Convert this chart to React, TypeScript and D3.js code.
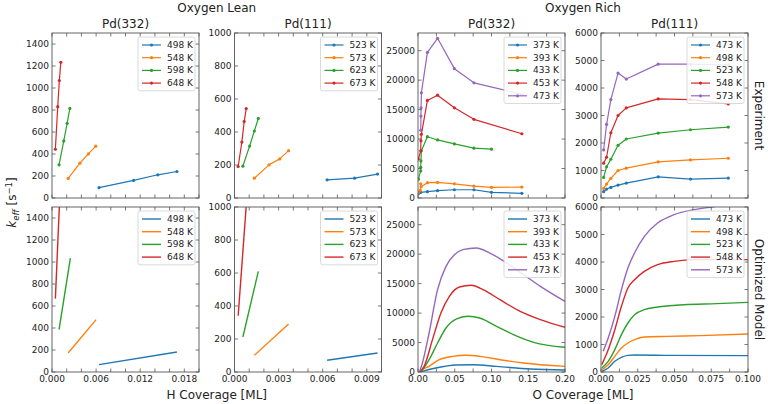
import * as d3 from "d3";

type Pt = [number, number];

const WIDTH = 768;
const HEIGHT = 404;

const COLORS = ["#1f77b4", "#ff7f0e", "#2ca02c", "#d62728", "#9467bd"];

// layout of the 2x4 grid of axes
const LEFTS = [52, 234.5, 418, 601];
const PANEL_W = 147;
const ROW_TOPS = [33, 207];
const PANEL_H = 165;

const GROUP_TITLES = ["Oxygen Lean", "Oxygen Rich"];
const ROW_TITLES = ["Experiment", "Optimized Model"];

const LEAN_332_TEMPS = ["498 K", "548 K", "598 K", "648 K"];
const LEAN_111_TEMPS = ["523 K", "573 K", "623 K", "673 K"];
const RICH_332_TEMPS = ["373 K", "393 K", "433 K", "453 K", "473 K"];
const RICH_111_TEMPS = ["473 K", "498 K", "523 K", "548 K", "573 K"];

// experiment (top row), [coverage, k_eff]
const LEAN_332_EXP: Pt[][] = [
  [[0.0064, 94], [0.0111, 160], [0.0144, 211], [0.017, 241]],
  [[0.0022, 178], [0.0038, 317], [0.00495, 401], [0.00595, 471]],
  [[0.00096, 302], [0.0016, 519], [0.00206, 679], [0.00243, 814]],
  [[0.00046, 443], [0.00078, 830], [0.001, 1068], [0.0012, 1234]],
];

const LEAN_111_EXP: Pt[][] = [
  [[0.0063, 110], [0.00817, 120], [0.00973, 145]],
  [[0.00135, 120], [0.00235, 201], [0.00308, 237], [0.00368, 287]],
  [[0.00057, 193], [0.00103, 315], [0.00135, 406], [0.00162, 482]],
  [[0.00025, 191], [0.0005, 339], [0.00066, 464], [0.0008, 542]],
];

const RICH_332_EXP: Pt[][] = [
  [[0.001, 800], [0.0037, 960], [0.0128, 1070], [0.0266, 1240], [0.0495, 1400], [0.0761, 1400], [0.1, 960], [0.1413, 790]],
  [[0.001, 1000], [0.003, 1300], [0.0037, 2400], [0.0042, 1900], [0.0128, 2600], [0.0266, 2650], [0.0495, 2400], [0.0761, 2000], [0.1, 1800], [0.1413, 1850]],
  [[0.0005, 3200], [0.0037, 4600], [0.0037, 5200], [0.004, 6300], [0.0046, 8000], [0.0128, 10400], [0.0266, 9850], [0.0495, 9180], [0.0761, 8450], [0.1, 8280]],
  [[0.0005, 6600], [0.0037, 8000], [0.004, 9700], [0.0046, 10800], [0.0128, 16550], [0.0266, 17450], [0.0495, 15300], [0.0761, 13350], [0.1413, 10900]],
  [[0.0037, 11500], [0.004, 13900], [0.0042, 15300], [0.0046, 17850], [0.0128, 24700], [0.0266, 27100], [0.0495, 21950], [0.0761, 19550], [0.1413, 17600]],
];

const RICH_111_EXP: Pt[][] = [
  [[0.0018, 229], [0.0038, 325], [0.0067, 386], [0.0116, 470], [0.0172, 542], [0.0389, 771], [0.0609, 687], [0.0866, 723]],
  [[0.0018, 349], [0.0038, 506], [0.0067, 711], [0.0116, 1000], [0.0172, 1084], [0.0389, 1313], [0.0609, 1386], [0.0866, 1446]],
  [[0.0018, 747], [0.0038, 1133], [0.0067, 1410], [0.0116, 1916], [0.0172, 2145], [0.0389, 2361], [0.0609, 2482], [0.0866, 2578]],
  [[0.0018, 1265], [0.0038, 1482], [0.0067, 2373], [0.0116, 3000], [0.0172, 3277], [0.0389, 3602], [0.0609, 3578], [0.0866, 3422]],
  [[0.0018, 1747], [0.0038, 2675], [0.0067, 3578], [0.0116, 4542], [0.0172, 4325], [0.0389, 4867], [0.0609, 4867], [0.0866, 4843]],
];

// optimized model (bottom row)
const LEAN_332_MODEL: Pt[][] = [
  [[0.0064, 67], [0.017, 182]],
  [[0.0022, 173], [0.006, 476]],
  [[0.00096, 385], [0.0025, 1036]],
  [[0.00046, 667], [0.0012, 1810]],
];

const LEAN_111_MODEL: Pt[][] = [
  [[0.0063, 71], [0.00973, 115]],
  [[0.00135, 101], [0.00368, 291]],
  [[0.00057, 212], [0.00162, 610]],
  [[0.00025, 341], [0.0008, 1010]],
];

const RICH_332_MODEL: Pt[][] = [
  [[0.003, 0], [0.006, 113], [0.0243, 679], [0.0518, 1190], [0.0748, 1240], [0.1069, 960], [0.1528, 510], [0.2, 340]],
  [[0.003, 0], [0.0037, 113], [0.0151, 960], [0.0289, 2090], [0.0472, 2660], [0.0656, 2830], [0.0839, 2660], [0.1115, 2090], [0.1436, 1530], [0.2, 960]],
  [[0.002, 0], [0.0037, 113], [0.0151, 2090], [0.0266, 4920], [0.0381, 7470], [0.0518, 8990], [0.0679, 9450], [0.0839, 9160], [0.1069, 7750], [0.1298, 6340], [0.1573, 5030], [0.2, 4190]],
  [[0.002, 0], [0.0083, 960], [0.0197, 5490], [0.0312, 10010], [0.0427, 12840], [0.0564, 14420], [0.0725, 14710], [0.0885, 13970], [0.1115, 12270], [0.139, 10290], [0.1665, 8880], [0.2, 7580]],
  [[0.002, 0], [0.006, 1530], [0.0151, 6620], [0.0266, 13970], [0.0381, 17930], [0.0495, 19910], [0.061, 20760], [0.0794, 21040], [0.0977, 20190], [0.1206, 18500], [0.1436, 16520], [0.1665, 14540], [0.2, 11990]],
];

const RICH_111_MODEL: Pt[][] = [
  [[0.0005, 24], [0.0049, 145], [0.0094, 388], [0.0139, 533], [0.0183, 606], [0.0228, 618], [0.0452, 606], [0.1, 594]],
  [[0.0005, 85], [0.0049, 267], [0.0094, 570], [0.0139, 873], [0.0183, 1055], [0.0228, 1176], [0.0295, 1273], [0.0452, 1297], [0.0676, 1321], [0.1, 1382]],
  [[0.0005, 145], [0.0049, 388], [0.0094, 812], [0.0139, 1358], [0.0183, 1782], [0.0228, 2085], [0.0295, 2267], [0.0385, 2364], [0.0564, 2448], [0.0787, 2485], [0.1, 2533]],
  [[0.0005, 267], [0.0049, 812], [0.0094, 1539], [0.0139, 2388], [0.0183, 3055], [0.0228, 3358], [0.0295, 3661], [0.0385, 3903], [0.0497, 4024], [0.0631, 4085], [0.1, 4085]],
  [[0.0015, 752], [0.0049, 1236], [0.0094, 2024], [0.0139, 2994], [0.0183, 3782], [0.0228, 4327], [0.0295, 4933], [0.0385, 5418], [0.0497, 5721], [0.0631, 5903], [0.0765, 6010], [0.1, 6250]],
];

type Column = {
  title: string;
  xMax: number;
  xMinor: number;
  xMajor: number;
  xFmt: string;
  yMax: number;
  yStep: number;
  temps: string[];
  exp: Pt[][];
  model: Pt[][];
};

const COLUMNS: Column[] = [
  { title: "Pd(332)", xMax: 0.02, xMinor: 0.002, xMajor: 0.006, xFmt: ".3f", yMax: 1500, yStep: 200, temps: LEAN_332_TEMPS, exp: LEAN_332_EXP, model: LEAN_332_MODEL },
  { title: "Pd(111)", xMax: 0.01, xMinor: 0.001, xMajor: 0.003, xFmt: ".3f", yMax: 1000, yStep: 200, temps: LEAN_111_TEMPS, exp: LEAN_111_EXP, model: LEAN_111_MODEL },
  { title: "Pd(332)", xMax: 0.2, xMinor: 0.025, xMajor: 0.05, xFmt: ".2f", yMax: 28000, yStep: 5000, temps: RICH_332_TEMPS, exp: RICH_332_EXP, model: RICH_332_MODEL },
  { title: "Pd(111)", xMax: 0.1, xMinor: 0.0125, xMajor: 0.025, xFmt: ".3f", yMax: 6000, yStep: 1000, temps: RICH_111_TEMPS, exp: RICH_111_EXP, model: RICH_111_MODEL },
];

const FONT = "DejaVu Sans, sans-serif";
const TICK = 3.5;
const SPINE = "#555";
const TEXT = "#222";

type PanelProps = {
  col: Column;
  colIndex: number;
  row: number;
  id: string;
};

const Panel = ({ col, colIndex, row, id }: PanelProps) => {
  const xScale = d3.scaleLinear().domain([0, col.xMax]).range([0, PANEL_W]);
  const yScale = d3.scaleLinear().domain([0, col.yMax]).range([PANEL_H, 0]);

  const nMinor = Math.round(col.xMax / col.xMinor);
  const ratio = Math.round(col.xMajor / col.xMinor);
  const xTicks = d3.range(0, nMinor + 1).map((i) => ({ v: i * col.xMinor, label: i % ratio === 0 }));
  const yTicks = d3.range(0, Math.floor(col.yMax / col.yStep) + 1).map((i) => i * col.yStep);
  const fmt = d3.format(col.xFmt);

  const series = row === 0 ? col.exp : col.model;
  const isExp = row === 0;

  const line = d3
    .line<Pt>()
    .x((d) => xScale(d[0]))
    .y((d) => yScale(d[1]))
    .curve(isExp ? d3.curveLinear : d3.curveMonotoneX);

  const legendW = 57;
  const rowH = 12.7;
  const legendH = col.temps.length * rowH + 3;
  const lx = PANEL_W - 4 - legendW;
  const ly = 4;

  return (
    <g transform={`translate(${LEFTS[colIndex]},${ROW_TOPS[row]})`}>
      <defs>
        <clipPath id={id}>
          <rect x={0} y={0} width={PANEL_W} height={PANEL_H} />
        </clipPath>
      </defs>
      <rect x={0} y={0} width={PANEL_W} height={PANEL_H} fill="white" />
      <g clipPath={`url(#${id})`}>
        {series.map((pts, i) => (
          <g key={i}>
            <path d={line(pts) || ""} fill="none" stroke={COLORS[i]} strokeWidth={isExp ? 1.2 : 1.4} strokeLinejoin="round" />
            {isExp &&
              pts.map((p, j) => (
                <circle key={j} cx={xScale(p[0])} cy={yScale(p[1])} r={1.6} fill={COLORS[i]} />
              ))}
          </g>
        ))}
      </g>

      {/* ticks, pointing inwards on all four sides */}
      {xTicks.map((t, i) => (
        <g key={`x${i}`}>
          <line x1={xScale(t.v)} x2={xScale(t.v)} y1={PANEL_H} y2={PANEL_H - TICK} stroke={SPINE} strokeWidth={0.8} />
          <line x1={xScale(t.v)} x2={xScale(t.v)} y1={0} y2={TICK} stroke={SPINE} strokeWidth={0.8} />
          {row === 1 && t.label && (
            <text x={xScale(t.v)} y={PANEL_H + 10} fontSize={9} textAnchor="middle" fill={TEXT} fontFamily={FONT}>
              {fmt(t.v)}
            </text>
          )}
        </g>
      ))}
      {yTicks.map((v) => (
        <g key={`y${v}`}>
          <line x1={0} x2={TICK} y1={yScale(v)} y2={yScale(v)} stroke={SPINE} strokeWidth={0.8} />
          <line x1={PANEL_W} x2={PANEL_W - TICK} y1={yScale(v)} y2={yScale(v)} stroke={SPINE} strokeWidth={0.8} />
          <text x={-3} y={yScale(v)} dy="0.34em" fontSize={9} textAnchor="end" fill={TEXT} fontFamily={FONT}>
            {v}
          </text>
        </g>
      ))}

      {/* legend */}
      <g transform={`translate(${lx},${ly})`}>
        <rect width={legendW} height={legendH} rx={2} fill="white" fillOpacity={0.85} stroke="#d0d0d0" strokeWidth={0.8} />
        {col.temps.map((t, i) => {
          const cy = 8 + i * rowH;
          return (
            <g key={t}>
              <line x1={4} x2={23} y1={cy} y2={cy} stroke={COLORS[i]} strokeWidth={isExp ? 1.2 : 1.4} />
              {isExp && <circle cx={13.5} cy={cy} r={1.6} fill={COLORS[i]} />}
              <text x={29} y={cy} dy="0.34em" fontSize={9} fill={TEXT} fontFamily={FONT}>
                {t}
              </text>
            </g>
          );
        })}
      </g>

      <rect x={0} y={0} width={PANEL_W} height={PANEL_H} fill="none" stroke={SPINE} strokeWidth={0.9} />

      {row === 0 && (
        <text x={PANEL_W / 2} y={-5} fontSize={12} textAnchor="middle" fill={TEXT} fontFamily={FONT}>
          {col.title}
        </text>
      )}
    </g>
  );
};

export default function App() {
  const leanCenter = (LEFTS[0] + LEFTS[1] + PANEL_W) / 2;
  const richCenter = (LEFTS[2] + LEFTS[3] + PANEL_W) / 2;
  const midY = (ROW_TOPS[0] + ROW_TOPS[1] + PANEL_H) / 2;
  const rightX = 755;

  return (
    <svg width={WIDTH} height={HEIGHT} style={{ position: "absolute", left: 0, top: 0, background: "white" }}>
      <rect width={WIDTH} height={HEIGHT} fill="white" />
      {[0, 1].map((row) =>
        COLUMNS.map((col, c) => <Panel key={`${row}-${c}`} col={col} colIndex={c} row={row} id={`clip-${row}-${c}`} />)
      )}

      <text x={leanCenter} y={12} fontSize={12} textAnchor="middle" fill={TEXT} fontFamily={FONT}>
        {GROUP_TITLES[0]}
      </text>
      <text x={richCenter} y={12} fontSize={12} textAnchor="middle" fill={TEXT} fontFamily={FONT}>
        {GROUP_TITLES[1]}
      </text>

      <text x={leanCenter} y={399} fontSize={12} textAnchor="middle" fill={TEXT} fontFamily={FONT}>
        H Coverage [ML]
      </text>
      <text x={richCenter} y={399} fontSize={12} textAnchor="middle" fill={TEXT} fontFamily={FONT}>
        O Coverage [ML]
      </text>

      <text
        transform={`translate(${rightX},${ROW_TOPS[0] + PANEL_H / 2}) rotate(90)`}
        fontSize={12}
        textAnchor="middle"
        fill={TEXT}
        fontFamily={FONT}
      >
        {ROW_TITLES[0]}
      </text>
      <text
        transform={`translate(${rightX},${ROW_TOPS[1] + PANEL_H / 2}) rotate(90)`}
        fontSize={12}
        textAnchor="middle"
        fill={TEXT}
        fontFamily={FONT}
      >
        {ROW_TITLES[1]}
      </text>

      <text transform={`translate(16,${midY}) rotate(-90)`} fontSize={12} textAnchor="middle" fill={TEXT} fontFamily={FONT}>
        <tspan fontStyle="italic">k</tspan>
        <tspan fontSize={8.5} fontStyle="italic" dy={2.5}>
          eff
        </tspan>
        <tspan dy={-2.5}> [s</tspan>
        <tspan fontSize={8.5} dy={-4.5}>
          −1
        </tspan>
        <tspan dy={4.5}>]</tspan>
      </text>
    </svg>
  );
}
